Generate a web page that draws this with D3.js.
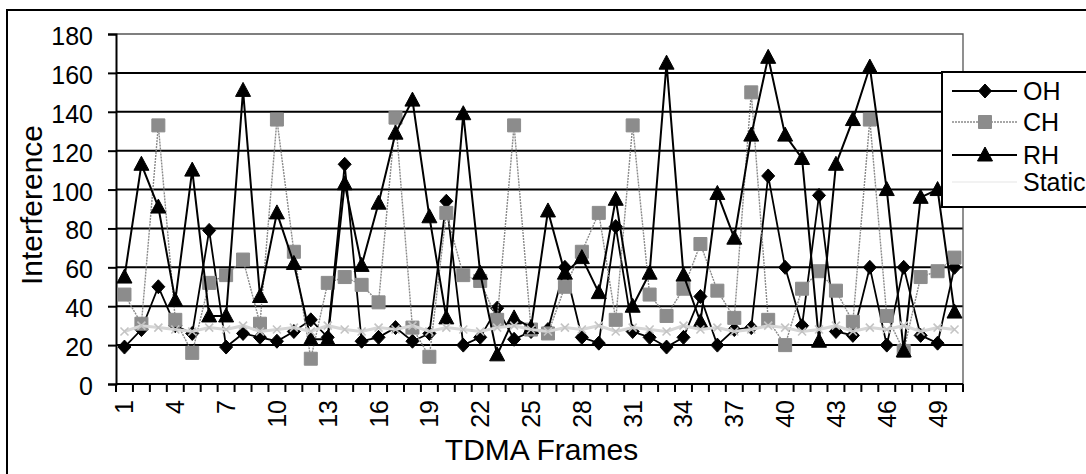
<!DOCTYPE html>
<html>
<head>
<meta charset="utf-8">
<script src="https://cdn.jsdelivr.net/npm/d3@7"></script>
<style>
  html, body { margin: 0; padding: 0; background: #fff; overflow: hidden; }
  svg { display: block; }
</style>
</head>
<body>
<svg id="chart" width="1086" height="474"></svg>
<script>
// Interference per TDMA frame for four channel-assignment schemes
const frames = [1,2,3,4,5,6,7,8,9,10,11,12,13,14,15,16,17,18,19,20,21,22,23,24,25,
                26,27,28,29,30,31,32,33,34,35,36,37,38,39,40,41,42,43,44,45,46,47,48,49,50];
const frameTickLabels = [1,4,7,10,13,16,19,22,25,28,31,34,37,40,43,46,49];
const yTicks = [0,20,40,60,80,100,120,140,160,180];
const seriesNames = ["OH","CH","RH","Static"];

const ohValues = [19,28,50,30,26,79,19,26,24,22,27,33,24,113,22,24,29,22,26,94,
                  20,24,39,23,27,28,60,24,21,81,27,24,19,24,45,20,28,29,107,60,
                  30,97,27,25,60,20,60,25,21,60];
const chValues = [46,31,133,33,16,52,56,64,31,136,68,13,52,55,51,42,137,29,14,88,
                  56,53,33,133,28,26,50,68,88,33,133,46,35,49,72,48,34,150,33,20,
                  49,58,48,32,136,35,17,55,58,65];
const rhValues = [55,113,91,43,110,35,35,151,45,88,62,23,23,103,61,93,129,146,86,34,
                  139,57,15,34,29,89,57,65,47,95,40,57,165,56,32,98,75,128,168,128,
                  116,22,113,136,163,100,17,96,100,37];
const staticValues = [27,30,29,28,27,29,28,30,27,28,29,27,30,28,27,29,28,30,27,29,
                      28,27,29,30,28,27,29,28,30,27,29,28,27,30,28,29,27,28,30,29,
                      27,28,30,27,29,28,30,27,29,28];

const W = 1086, H = 474;
const plot = { left: 116, right: 963, top: 34, bottom: 384 };
const font = "'Liberation Sans', Arial, Helvetica, sans-serif";

const svg = d3.select("#chart");

const x = d3.scaleBand().domain(frames).range([plot.left, plot.right]).padding(0);
const y = d3.scaleLinear().domain([0, 180]).range([plot.bottom, plot.top]);
const cx = f => x(f) + x.bandwidth() / 2;

// background and outer chart frame
svg.append("rect").attr("width", W).attr("height", H).attr("fill", "#fff");
svg.append("rect")
  .attr("x", 7).attr("y", 10).attr("width", 1130).attr("height", 475)
  .attr("fill", "none").attr("stroke", "#000").attr("stroke-width", 2);

// horizontal gridlines
svg.append("g").selectAll("line")
  .data(yTicks.filter(v => v > 0 && v < 180))
  .join("line")
  .attr("x1", plot.left).attr("x2", plot.right)
  .attr("y1", d => y(d)).attr("y2", d => y(d))
  .attr("stroke", "#000").attr("stroke-width", 2);

// plot-area border (top and right)
svg.append("path")
  .attr("d", `M${plot.left},${y(180)}H${plot.right}V${plot.bottom}`)
  .attr("fill", "none").attr("stroke", "#555").attr("stroke-width", 1.3);

// y axis
const yAxis = svg.append("g")
  .attr("transform", `translate(${plot.left},0)`)
  .call(d3.axisLeft(y).tickValues(yTicks).tickSize(8).tickPadding(15));
yAxis.select(".domain").attr("stroke", "#000").attr("stroke-width", 2);
yAxis.selectAll(".tick line").attr("stroke", "#000").attr("stroke-width", 2);
yAxis.selectAll(".tick text")
  .attr("font-family", font).attr("font-size", 25).attr("fill", "#000")
  .attr("dy", "0.42em");

// x axis line and category boundary ticks
svg.append("line")
  .attr("x1", plot.left).attr("x2", plot.right)
  .attr("y1", plot.bottom).attr("y2", plot.bottom)
  .attr("stroke", "#000").attr("stroke-width", 2);
const boundaries = frames.map(f => x(f)).concat([x(frames[frames.length - 1]) + x.bandwidth()]);
svg.append("g").selectAll("line")
  .data(boundaries)
  .join("line")
  .attr("x1", d => d).attr("x2", d => d)
  .attr("y1", plot.bottom).attr("y2", plot.bottom + 8)
  .attr("stroke", "#000").attr("stroke-width", 2);

// x tick labels, rotated
svg.append("g").selectAll("text")
  .data(frameTickLabels)
  .join("text")
  .attr("transform", d => `translate(${cx(d)},400) rotate(-90)`)
  .attr("text-anchor", "end")
  .attr("dy", "0.36em")
  .attr("font-family", font).attr("font-size", 25).attr("fill", "#000")
  .text(d => d);

// axis titles
svg.append("text")
  .attr("x", (plot.left + plot.right) / 2 + 2).attr("y", 460)
  .attr("text-anchor", "middle")
  .attr("font-family", font).attr("font-size", 30).attr("fill", "#000")
  .text("TDMA Frames");
svg.append("text")
  .attr("transform", `translate(42,${(plot.top + plot.bottom) / 2 - 4}) rotate(-90)`)
  .attr("text-anchor", "middle")
  .attr("font-family", font).attr("font-size", 30).attr("fill", "#000")
  .text("Interference");

// marker shapes
const markerPath = {
  diamond: "M0,-7L6.5,0L0,7L-6.5,0Z",
  square: "M-6.5,-6.5H6.5V6.5H-6.5Z",
  triangle: "M0,-8L7.5,6H-7.5Z",
  cross: "M-4,-4L4,4M4,-4L-4,4"
};

const series = [
  { name: seriesNames[0], values: ohValues, line: "#000", width: 1.8, dash: null, marker: "diamond", fill: "#000", mstroke: "#000" },
  { name: seriesNames[1], values: chValues, line: "#8a8a8a", width: 1.4, dash: "2,1", marker: "square", fill: "#8c8c8c", mstroke: "#8c8c8c" },
  { name: seriesNames[2], values: rhValues, line: "#000", width: 2, dash: null, marker: "triangle", fill: "#000", mstroke: "#000" },
  { name: seriesNames[3], values: staticValues, line: "#d6d6d6", width: 3, dash: null, marker: "cross", fill: "none", mstroke: "#c4c4c4" }
];

const line = d3.line().x(d => cx(d.frame)).y(d => y(d.value));

series.forEach(s => {
  const pts = frames.map((f, i) => ({ frame: f, value: s.values[i] }));
  const g = svg.append("g").attr("class", "series");
  g.append("path")
    .datum(pts)
    .attr("d", line)
    .attr("fill", "none")
    .attr("stroke", s.line)
    .attr("stroke-width", s.width)
    .attr("stroke-dasharray", s.dash)
    .attr("stroke-linejoin", "miter");
  g.selectAll("path.m")
    .data(pts)
    .join("path")
    .attr("class", "m")
    .attr("transform", d => `translate(${cx(d.frame)},${y(d.value)})`)
    .attr("d", markerPath[s.marker])
    .attr("fill", s.fill)
    .attr("stroke", s.mstroke)
    .attr("stroke-width", s.marker === "cross" ? 1.6 : 1);
});

// legend
const legend = svg.append("g");
legend.append("rect")
  .attr("x", 942).attr("y", 72).attr("width", 200).attr("height", 135)
  .attr("fill", "#fff").attr("stroke", "#000").attr("stroke-width", 2);
const legendRows = [91, 122, 155, 182];
series.forEach((s, i) => {
  const ly = legendRows[i];
  legend.append("line")
    .attr("x1", 952).attr("x2", 1017).attr("y1", ly).attr("y2", ly)
    .attr("stroke", s.name === "Static" ? "#f2f2f2" : s.line)
    .attr("stroke-width", s.name === "Static" ? 2 : s.width)
    .attr("stroke-dasharray", s.dash);
  if (s.name !== "Static") {
    legend.append("path")
      .attr("transform", `translate(985,${ly})`)
      .attr("d", markerPath[s.marker])
      .attr("fill", s.fill).attr("stroke", s.mstroke);
  }
  legend.append("text")
    .attr("x", 1023).attr("y", ly + 8.5)
    .attr("font-family", font).attr("font-size", 25).attr("fill", "#000")
    .text(s.name);
});
</script>
</body>
</html>
